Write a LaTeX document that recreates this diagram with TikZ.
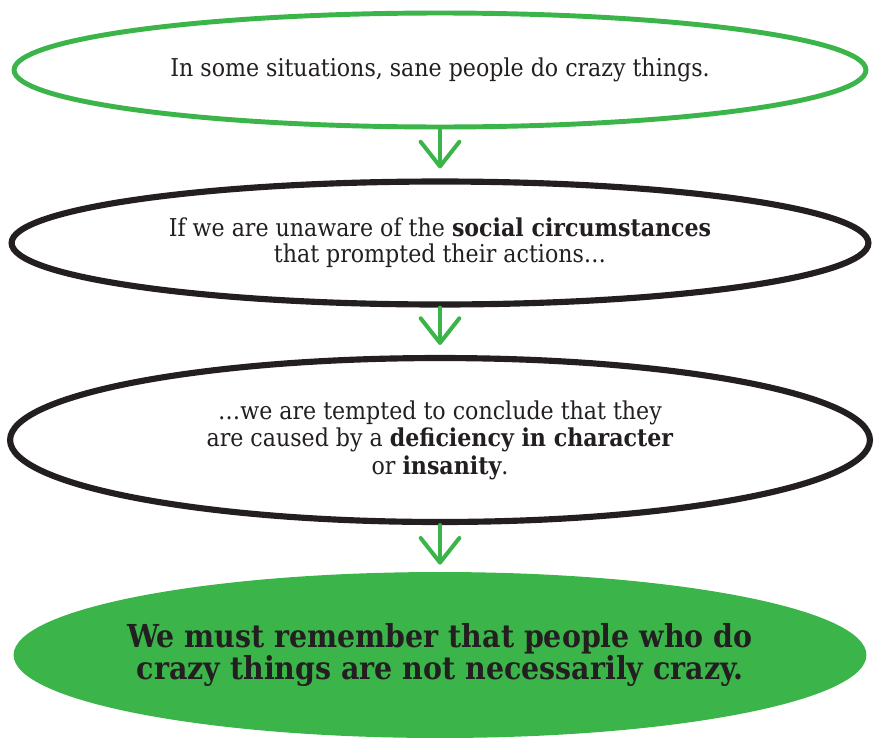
\documentclass[tikz,border=0pt]{standalone}
\usepackage{fontspec}
\setmainfont{DejaVu Serif Condensed}
\usepackage{xcolor}
\usepackage{tikz}
\usetikzlibrary{positioning,shapes.geometric,arrows.meta}
\definecolor{leafgreen}{HTML}{3BB54A}
\definecolor{inkblack}{HTML}{231F20}

\tikzset{
  oval/.style={ellipse, inner sep=0pt, align=center, text=inkblack,
    font=\fontsize{14}{14.8}\selectfont},
  ovalline/.style={oval, draw=#1, line width=3pt, fill=white},
  flowarrow/.style={draw=leafgreen, line width=2.3pt, line cap=round,
    -{Straight Barb[length=14pt,width=22pt,round]}}
}

\begin{document}
\begin{tikzpicture}[x=0.02cm,y=-0.02cm]
\useasboundingbox (0,0) rectangle (874,737);

% the four steps
\node[ovalline=leafgreen, line width=2.8pt, minimum width=17.04cm, minimum height=2.28cm]
  (sane) at (440,70) {In some situations, sane people do crazy things.};

\node[ovalline=inkblack, line width=3.5pt, minimum width=17.14cm, minimum height=2.46cm]
  (unaware) at (440,243) {If we are unaware of the \textbf{social circumstances}\\
  that prompted their actions\ldots};

\node[ovalline=inkblack, line width=3.5pt, minimum width=17.2cm, minimum height=3.28cm,
  font=\fontsize{14}{15.6}\selectfont]
  (tempted) at (440,440) {\ldots we are tempted to conclude that they\\
  are caused by a \textbf{deficiency in character}\\
  or \textbf{insanity}.};

\node[oval, fill=leafgreen, inner xsep=-1.6cm, minimum width=17.06cm, minimum height=3.32cm,
  font=\fontsize{18}{17.8}\selectfont\bfseries]
  (remember) at (440,655) {We must remember that people who do\\
  crazy things are not necessarily crazy.};

% green arrows between them
\draw[flowarrow, shorten >=5.7pt] (sane.south) -- (unaware.north);
\draw[flowarrow, shorten >=5.7pt] (unaware.south) -- (tempted.north);
\draw[flowarrow, shorten >=4pt] (tempted.south) -- (remember.north);
\end{tikzpicture}
\end{document}
